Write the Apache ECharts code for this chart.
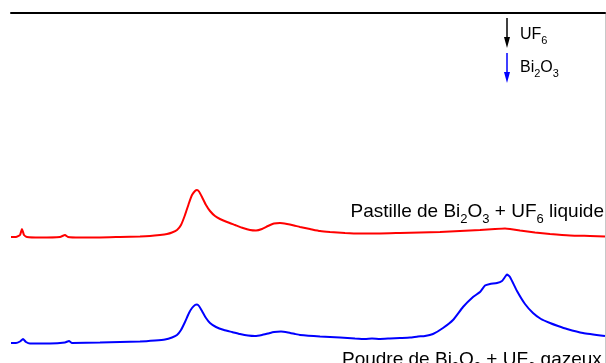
<!DOCTYPE html>
<html>
<head>
<meta charset="utf-8">
<script src="https://cdn.jsdelivr.net/npm/echarts@6/dist/echarts.min.js"></script>
<style>html,body{margin:0;padding:0;background:#fff}#c{width:606px;height:363px}</style>
</head>
<body>
<div id="c"></div>
<script>
// x positions (arbitrary units) and intensities (arbitrary units, offset spectra)
var redX = [11,16,20,22,24,27,40,60,65,68,80,100,120,140,150,160,167,172,177,181,185,189,192,195,197,199,202,206,210,215,220,227,235,243,250,256,262,268,274,280,287,294,300,310,320,330,345,360,380,400,420,440,460,480,495,505,510,520,535,550,570,590,605];
var redY = [126,126,128,134,128,126,125.5,126,128,126,125.5,125.5,126,126.5,127,128,129,130.5,133,138,148,160,168,172,173,171.5,166,158,152,147,144,141,138,135,133,132.5,134,137,139.5,140,139,137.5,136,134,132,131,130,129.5,129.5,130,130.5,131,132,133,134,134.5,134,132.5,130.5,129,127.5,127,126.5];
var blueX = [11,16,20,23,26,30,50,65,69,72,100,120,140,155,165,172,177,181,185,189,192,195,197,199,202,206,210,216,224,232,240,248,255,262,268,274,281,288,295,300,320,340,355,365,372,380,390,400,410,418,425,433,443,453,463,473,480,485,490,497,502,505,507,510,517,525,533,541,550,558,567,583,605];
var blueY = [20,20,21.5,24,21,19.5,19.5,20.5,22,20,20.5,21,21.5,22.5,23.5,25.5,28,33,41,50,55,58,58.5,57,52,45,40,36,33,31,29,27.5,27,28,29.5,31,31.5,30.5,29,28,26.5,25.5,24.5,24,24.5,24,24.5,25,25.5,26.5,27,29,35,43,56,66,71,77.5,79,80,82,86,88.5,86,72,59,50,44,40,37,34,30,27];
var legendItems = [{name:'UF', sub:'6', color:'#000000'}, {name:'Bi', sub:'2', name2:'O', sub2:'3', color:'#0000ff'}];

function pairs(xs, ys){ return xs.map(function(x,i){return [x, ys[i]];}); }

var chart = echarts.init(document.getElementById('c'), null, {renderer:'canvas'});
var FONT = 'Liberation Sans, Arial, sans-serif';
var rich = {
  m: {fontSize: 19, fontFamily: FONT, color: '#000', lineHeight: 24},
  s: {fontSize: 13, fontFamily: FONT, color: '#000', lineHeight: 24, padding: [16,0,0,0]},
  lm: {fontSize: 16, fontFamily: FONT, color: '#000', lineHeight: 20},
  ls: {fontSize: 11, fontFamily: FONT, color: '#000', lineHeight: 20, padding: [12,0,0,0]}
};
var option = {
  backgroundColor: '#fff',
  animation: false,
  grid: {left: 11, right: 1, top: 13, bottom: 0},
  xAxis: {type: 'value', min: 11, max: 605, position: 'top',
    axisLine: {show: true, onZero: false, lineStyle: {color: '#000', width: 2}},
    axisTick: {show: false}, axisLabel: {show: false}, splitLine: {show: false}},
  yAxis: {type: 'value', min: 0, max: 350, position: 'right',
    axisLine: {show: true, lineStyle: {color: '#c8c8c8', width: 1}},
    axisTick: {show: false}, axisLabel: {show: false}, splitLine: {show: false}},
  series: [
    {type: 'line', data: pairs(redX, redY), showSymbol: false, smooth: 0.15,
     lineStyle: {color: '#ff0000', width: 2}},
    {type: 'line', data: pairs(blueX, blueY), showSymbol: false, smooth: 0.15,
     lineStyle: {color: '#0000ff', width: 2}}
  ],
  graphic: [
    {type: 'text', right: 2, top: 197, style: {text: '{m|Pastille de Bi}{s|2}{m|O}{s|3}{m| + UF}{s|6}{m| liquide}', rich: rich}},
    {type: 'text', left: 342, top: 345, style: {text: '{m|Poudre de Bi}{s|2}{m|O}{s|3}{m| + UF}{s|6}{m| gazeux}', rich: rich}},
    {type: 'line', shape: {x1: 507, y1: 18, x2: 507, y2: 40}, style: {stroke: legendItems[0].color, lineWidth: 1.5}},
    {type: 'polygon', shape: {points: [[504,37],[510,37],[507,48]]}, style: {fill: legendItems[0].color}},
    {type: 'line', shape: {x1: 507, y1: 53, x2: 507, y2: 75}, style: {stroke: legendItems[1].color, lineWidth: 1.5}},
    {type: 'polygon', shape: {points: [[504,72],[510,72],[507,83]]}, style: {fill: legendItems[1].color}},
    {type: 'text', left: 520, top: 23, style: {text: '{lm|' + legendItems[0].name + '}{ls|' + legendItems[0].sub + '}', rich: rich}},
    {type: 'text', left: 520, top: 56, style: {text: '{lm|' + legendItems[1].name + '}{ls|' + legendItems[1].sub + '}{lm|' + legendItems[1].name2 + '}{ls|' + legendItems[1].sub2 + '}', rich: rich}}
  ]
};
chart.setOption(option);
</script>
</body>
</html>
